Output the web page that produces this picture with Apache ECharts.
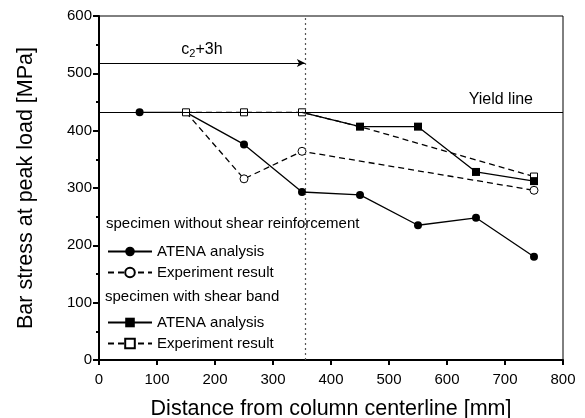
<!DOCTYPE html>
<html>
<head>
<meta charset="utf-8">
<script src="https://cdn.jsdelivr.net/npm/echarts@6/dist/echarts.min.js"></script>
<style>
  html, body { margin: 0; padding: 0; background: #fff; }
  #chart { width: 585px; height: 418px; }
</style>
</head>
<body>
<div id="chart"></div>
<script>
// data
const noShearAtena = [[70, 432], [150, 432], [250, 376], [350, 293], [450, 288], [550, 235], [650, 248], [750, 180]];
const noShearExp = [[150, 432], [250, 316], [350, 364], [750, 296]];
const bandAtena = [[350, 432], [450, 407], [550, 407], [650, 328], [750, 312]];
const bandExp = [[150, 432], [250, 432], [350, 432], [450, 407], [750, 320]];
// points drawn under another marker (no own symbol)
const hiddenNoShearAtena = [150];
const hiddenNoShearExp = [150];
const hiddenBandAtena = [350];
const hiddenBandExp = [450];

const yieldStress = 432;
const c2Plus3h = 355;
const arrowLevel = 518;

const xTicks = [0, 800, 100];
const yTicks = [0, 600, 100];

const legendNames = {
  nsA: "ATENA analysis",
  nsE: "Experiment result",
  sbA: "ATENA analysis",
  sbE: "Experiment result"
};

const font = "Liberation Sans, Arial, sans-serif";

function points(arr, hidden) {
  return arr.map(function (p) {
    if (hidden.indexOf(p[0]) >= 0) return { value: p, symbol: "none" };
    return p;
  });
}

const chart = echarts.init(document.getElementById("chart"));

const legendBase = {
  orient: "vertical",
  left: 102,
  itemWidth: 44,
  itemHeight: 12,
  itemGap: 6,
  selectedMode: false,
  formatter: function (name) { return legendNames[name]; },
  textStyle: { fontFamily: font, fontSize: 15, color: "#000" }
};

chart.setOption({
  animation: false,
  grid: { left: 99, right: 22, top: 16, bottom: 58, outerBoundsMode: "none", containLabel: false },
  xAxis: {
    type: "value",
    min: xTicks[0], max: xTicks[1], interval: xTicks[2],
    name: "Distance from column centerline [mm]",
    nameLocation: "middle",
    nameGap: 38,
    nameTextStyle: { fontFamily: font, fontSize: 21.5, color: "#000" },
    axisLine: { lineStyle: { color: "#000", width: 2 } },
    axisTick: { length: 5, lineStyle: { color: "#000", width: 2 } },
    axisLabel: { fontFamily: font, fontSize: 15, color: "#000", margin: 12 },
    splitLine: { show: false }
  },
  yAxis: {
    type: "value",
    min: yTicks[0], max: yTicks[1], interval: yTicks[2],
    name: "Bar stress at peak load [MPa]",
    nameLocation: "middle",
    nameGap: 62,
    nameTextStyle: { fontFamily: font, fontSize: 21.5, color: "#000" },
    axisLine: { lineStyle: { color: "#000", width: 2 } },
    axisTick: { length: 6, lineStyle: { color: "#000", width: 2 } },
    minorTick: { show: true, splitNumber: 2, length: 3, lineStyle: { color: "#000", width: 2 } },
    axisLabel: { fontFamily: font, fontSize: 15, color: "#000", margin: 7 },
    splitLine: { show: false }
  },
  legend: [
    Object.assign({ top: 239, data: ["nsA", "nsE"] }, legendBase),
    Object.assign({ top: 310, data: ["sbA", "sbE"] }, legendBase)
  ],
  graphic: [
    { type: "rect", shape: { x: 99, y: 16, width: 464, height: 344 }, style: { fill: "none", stroke: "#000", lineWidth: 1 }, silent: true },
    { type: "text", left: 106, top: 216, style: { text: "specimen without shear reinforcement", font: "15px " + font, fill: "#000" } },
    { type: "text", left: 105, top: 289, style: { text: "specimen with shear band", font: "15px " + font, fill: "#000" } }
  ],
  series: [
    {
      name: "nsA", type: "line",
      data: points(noShearAtena, hiddenNoShearAtena),
      symbol: "circle", symbolSize: 8,
      lineStyle: { color: "#000", width: 1.3 },
      itemStyle: { color: "#000" },
      markLine: {
        silent: true,
        symbol: ["none", "none"],
        data: [
          [{ coord: [c2Plus3h, yTicks[0]] }, { coord: [c2Plus3h, yTicks[1]] }]
        ],
        lineStyle: { color: "#555", type: [2, 3], width: 1.2 },
        label: { show: false }
      }
    },
    {
      name: "nsE", type: "line",
      data: points(noShearExp, hiddenNoShearExp),
      symbol: "circle", symbolSize: 8,
      lineStyle: { color: "#000", width: 1.3, type: [6, 4] },
      itemStyle: { color: "#fff", borderColor: "#000", borderWidth: 1 },
      markLine: {
        silent: true,
        symbol: ["none", "arrow"],
        symbolSize: [6, 8],
        data: [
          [{ coord: [xTicks[0], arrowLevel] }, { coord: [c2Plus3h, arrowLevel] }]
        ],
        lineStyle: { color: "#000", type: "solid", width: 1 },
        label: {
          show: true,
          position: "insideMiddleTop",
          distance: 4,
          formatter: "{a|c}{b|2}{a|+3h}",
          rich: {
            a: { fontFamily: font, fontSize: 16, color: "#000" },
            b: { fontFamily: font, fontSize: 11, color: "#000", verticalAlign: "bottom", padding: [8, 0, 0, 0] }
          }
        }
      }
    },
    {
      name: "sbA", type: "line",
      data: points(bandAtena, hiddenBandAtena),
      symbol: "rect", symbolSize: 8,
      lineStyle: { color: "#000", width: 1.3 },
      itemStyle: { color: "#000" },
      z: 4,
      markLine: {
        silent: true,
        symbol: ["none", "none"],
        data: [{ yAxis: yieldStress }],
        lineStyle: { color: "#000", type: "solid", width: 1 },
        label: {
          show: true,
          position: "insideEndTop",
          distance: [30, 5],
          formatter: "Yield line",
          fontFamily: font, fontSize: 16, color: "#000"
        }
      }
    },
    {
      name: "sbE", type: "line",
      data: points(bandExp, hiddenBandExp),
      symbol: "rect", symbolSize: 7,
      lineStyle: { color: "#000", width: 1.3, type: [6, 4] },
      itemStyle: { color: "#fff", borderColor: "#000", borderWidth: 1 },
      z: 3
    }
  ]
});
</script>
</body>
</html>
